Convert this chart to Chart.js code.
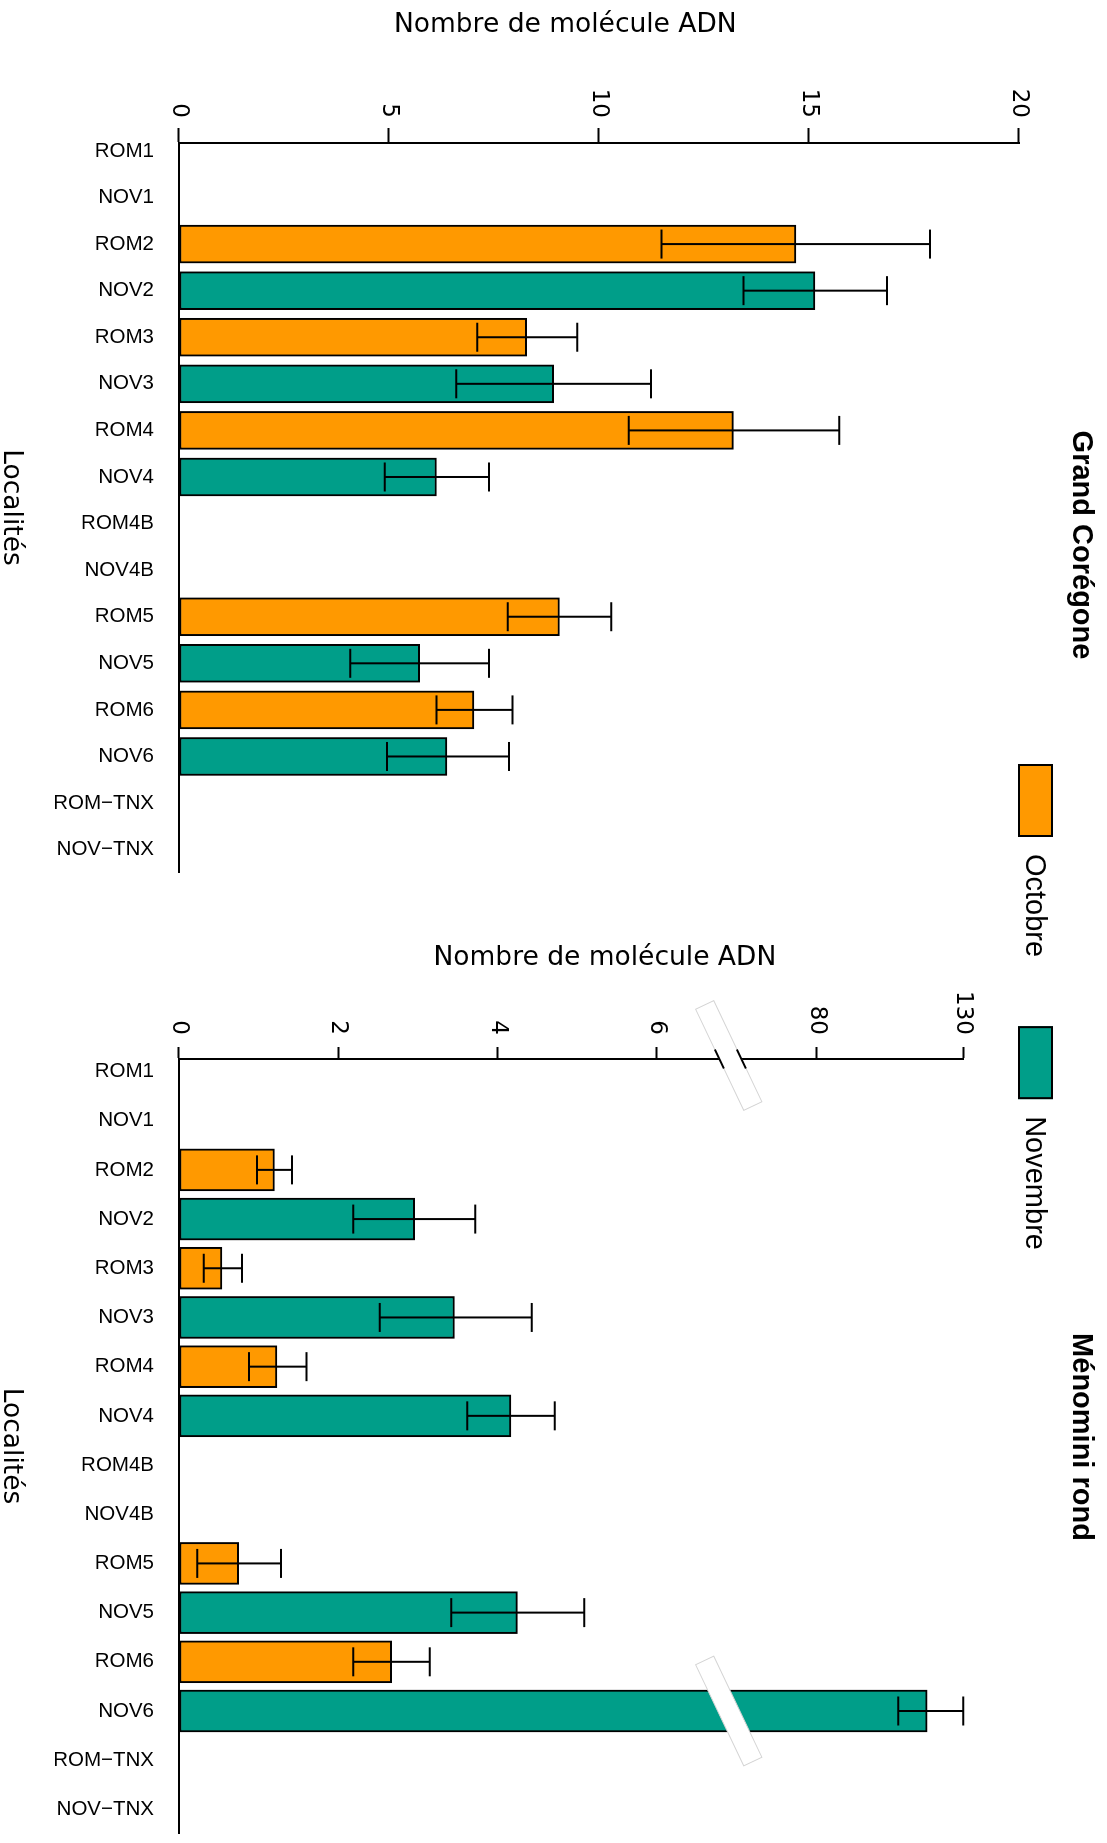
<!DOCTYPE html>
<html><head><meta charset="utf-8">
<script src="https://cdn.jsdelivr.net/npm/chart.js@4.4.1/dist/chart.umd.min.js"></script>
<style>
html,body{margin:0;padding:0;overflow:hidden;background:#fff;width:1107px;height:1843px;}
#stage{position:absolute;left:0;top:0;width:1843px;height:1107px;transform-origin:0 0;transform:translate(1107px,0) rotate(90deg);overflow:hidden;background:#fff;}
canvas{position:absolute;top:0;}
</style></head><body>
<div id="stage">
<canvas id="chartA" width="1090" height="1107" style="left:0;width:1090px;height:1107px"></canvas>
<canvas id="chartB" width="1394" height="1107" style="left:740px;width:1394px;height:1107px"></canvas>
</div>
<script>
// ---------------- DATA ----------------
const categories = ['ROM1','NOV1','ROM2','NOV2','ROM3','NOV3','ROM4','NOV4','ROM4B','NOV4B','ROM5','NOV5','ROM6','NOV6','ROM\u2212TNX','NOV\u2212TNX'];
const seriesNames = ['Octobre','Novembre'];

// Grand Corégone
const coregoneOctobre     = [null,null,14.69,null, 8.28,null,13.20,null,null,null, 9.06,null, 7.02,null,null,null];
const coregoneOctobreLow  = [null,null,11.49,null, 7.10,null,10.71,null,null,null, 7.83,null, 6.13,null,null,null];
const coregoneOctobreHigh = [null,null,17.88,null, 9.48,null,15.72,null,null,null,10.29,null, 7.94,null,null,null];
const coregoneNovembre     = [null,null,null,15.14,null, 8.92,null,6.13,null,null,null,5.73,null,6.38,null,null];
const coregoneNovembreLow  = [null,null,null,13.44,null, 6.60,null,4.90,null,null,null,4.08,null,4.95,null,null];
const coregoneNovembreHigh = [null,null,null,16.86,null,11.24,null,7.38,null,null,null,7.38,null,7.86,null,null];
const coregoneTicks = [0,5,10,15,20];

// Ménomini rond
const menominiOctobre     = [null,null,1.20,null,0.54,null,1.23,null,null,null,0.75,null,2.67,null,null,null];
const menominiOctobreLow  = [null,null,0.98,null,0.31,null,0.88,null,null,null,0.23,null,2.19,null,null,null];
const menominiOctobreHigh = [null,null,1.42,null,0.79,null,1.60,null,null,null,1.28,null,3.15,null,null,null];
const menominiNovembre     = [null,null,null,2.96,null,3.46,null,4.17,null,null,null,4.25,null,117.7,null,null];
const menominiNovembreLow  = [null,null,null,2.19,null,2.52,null,3.62,null,null,null,3.42,null,107.8,null,null];
const menominiNovembreHigh = [null,null,null,3.72,null,4.43,null,4.72,null,null,null,5.09,null,130,null,null];
const menominiTicks = [0,2,4,6,80,130];
const menominiBreakDomain = [0,6,80,130];

// ---------------- STYLE ----------------
const COLORS = ['#FF9900','#009E89'];
const BREAK_RANGE = [0,0.6091,0.8131,1];

Chart.defaults.color = '#000';
Chart.defaults.font.family = 'Liberation Sans';

function points(vals, lows, highs){
  return vals.map((v,i)=> v==null ? null : {x:i, y:v, lo:lows[i], hi:highs[i]}).filter(p=>p);
}

// broken (piecewise linear) value scale
function toFrac(v){
  const d = menominiBreakDomain;
  if (v == null || isNaN(v)) return NaN;
  for (let k=1;k<d.length;k++){
    if (v <= d[k] || k === d.length-1){
      return BREAK_RANGE[k-1] + (v-d[k-1])/(d[k]-d[k-1])*(BREAK_RANGE[k]-BREAK_RANGE[k-1]);
    }
  }
}
function fromFrac(f){
  const d = menominiBreakDomain;
  for (let k=1;k<d.length;k++){
    if (f <= BREAK_RANGE[k] || k === d.length-1){
      return d[k-1] + (f-BREAK_RANGE[k-1])/(BREAK_RANGE[k]-BREAK_RANGE[k-1])*(d[k]-d[k-1]);
    }
  }
}
class BrokenScale extends Chart.LinearScale {
  getPixelForValue(value){ return this.getPixelForDecimal(toFrac(value)); }
  getValueForPixel(pixel){ return fromFrac(this.getDecimalForPixel(pixel)); }
}
BrokenScale.id = 'broken';
BrokenScale.defaults = Chart.LinearScale.defaults;
Chart.register(BrokenScale);

const errorBars = {
  id:'errorBars',
  afterDatasetsDraw(chart){
    const ctx = chart.ctx, yS = chart.scales.y;
    ctx.save();
    ctx.strokeStyle = '#000'; ctx.lineWidth = 2;
    chart.data.datasets.forEach((ds,di)=>{
      const meta = chart.getDatasetMeta(di);
      meta.data.forEach((bar,j)=>{
        const p = ds.data[j];
        const lo = yS.getPixelForValue(p.lo), hi = yS.getPixelForValue(p.hi);
        const x = bar.x, w = 14.5;
        ctx.beginPath();
        ctx.moveTo(x,lo); ctx.lineTo(x,hi);
        ctx.moveTo(x-w,lo); ctx.lineTo(x+w,lo);
        ctx.moveTo(x-w,hi); ctx.lineTo(x+w,hi);
        ctx.stroke();
      });
    });
    ctx.restore();
  }
};

const axisBreak = {
  id:'axisBreak',
  afterDraw(chart){
    if (chart.canvas.id !== 'chartB') return;
    const ctx = chart.ctx, yS = chart.scales.y, xS = chart.scales.x;
    const p6 = yS.getPixelForValue(6), p80 = yS.getPixelForValue(80);
    const cy = p6 + 0.45*(p80-p6);
    const a = -25.45*Math.PI/180;
    const axisX = chart.chartArea.left;
    function band(cx, slashes){
      ctx.save();
      ctx.translate(cx, cy); ctx.rotate(a);
      ctx.fillStyle = '#fff'; ctx.fillRect(-56,-10,112,20);
      ctx.strokeStyle = '#d4d4d4'; ctx.lineWidth = 1; ctx.strokeRect(-56,-10,112,20);
      if (slashes){
        ctx.strokeStyle = '#000'; ctx.lineWidth = 2;
        const d = axisX - cx;
        [10,-10].forEach(t=>{
          const s = (d + t*Math.sin(a))/Math.cos(a);
          ctx.beginPath(); ctx.moveTo(s-10.5,t); ctx.lineTo(s+10.5,t); ctx.stroke();
        });
      }
      ctx.restore();
    }
    band(axisX-3.5, true);
    band(xS.getPixelForValue(13), false);
  }
};

const sideLegend = {
  id:'sideLegend',
  afterDraw(chart){
    if (chart.canvas.id !== 'chartB') return;
    const ctx = chart.ctx;
    ctx.save();
    ctx.font = '29px "Liberation Sans"';
    ctx.textBaseline = 'middle';
    let x = 24; const y = 54, bw = 73, bh = 35;
    chart.data.datasets.forEach(ds=>{
      ctx.fillStyle = ds.backgroundColor; ctx.fillRect(x,y,bw,bh);
      ctx.strokeStyle = '#000'; ctx.lineWidth = 2; ctx.strokeRect(x+1,y+1,bw-2,bh-2);
      ctx.fillStyle = '#000'; ctx.fillText(ds.label, x+bw+17, y+bh/2+1);
      x += bw + 17 + ctx.measureText(ds.label).width + 69;
    });
    ctx.restore();
  }
};

function xAxis(min, max){
  return {
    type:'linear', min, max, offset:false,
    afterBuildTicks(s){ s.ticks = categories.map((c,i)=>({value:i})); },
    ticks:{ autoSkip:false, minRotation:90, maxRotation:90, padding:25, color:'#000',
      font:{family:'Liberation Sans', size:20.5}, callback:(v)=>categories[v] },
    grid:{display:false, drawTicks:false, offset:false},
    border:{display:true, color:'#000', width:2},
    title:{display:true, text:'Localités', color:'#000', font:{family:'DejaVu Sans', size:26.5}, padding:{top:0,bottom:-5}},
    afterFit(s){ s.height = 179; }
  };
}
function yAxis(type, min, max, tickVals, tickLen, pad, width, titleText, titlePad){
  return {
    type, min, max,
    afterBuildTicks(s){ s.ticks = tickVals.map(v=>({value:v})); },
    ticks:{ padding:pad, color:'#000', font:{family:'DejaVu Sans', size:23}, callback:(v)=>String(v) },
    grid:{display:true, drawOnChartArea:false, drawTicks:true, tickLength:tickLen, tickColor:'#000', tickWidth:2},
    border:{display:true, color:'#000', width:2},
    title:{display:true, text:titleText, color:'#000', font:{family:'DejaVu Sans', size:26.5}, padding:{top:titlePad,bottom:0}},
    afterFit(s){ s.width = width; }
  };
}
function padAxis(width){
  return { type:'linear', position:'right', display:true, grid:{display:false}, ticks:{display:false}, border:{display:false}, afterFit(s){ s.width = width; } };
}
function datasets(oct, octLo, octHi, nov, novLo, novHi, thick){
  return [
    {label:seriesNames[0], data:points(oct,octLo,octHi), backgroundColor:COLORS[0], borderColor:'#000', borderWidth:2, borderSkipped:false, barThickness:thick, grouped:false},
    {label:seriesNames[1], data:points(nov,novLo,novHi), backgroundColor:COLORS[1], borderColor:'#000', borderWidth:2, borderSkipped:false, barThickness:thick, grouped:false}
  ];
}
function baseOptions(title, titleBottom, scales){
  return {
    responsive:false, animation:false, devicePixelRatio:1, events:[],
    layout:{padding:0},
    plugins:{
      legend:{display:false}, tooltip:{enabled:false},
      title:{display:true, text:title, color:'#000', font:{family:'Liberation Sans', size:29, weight:'bold'}, padding:{top:8.6, bottom:titleBottom}}
    },
    scales
  };
}

new Chart(document.getElementById('chartA'), {
  type:'bar',
  data:{ datasets: datasets(coregoneOctobre, coregoneOctobreLow, coregoneOctobreHigh, coregoneNovembre, coregoneNovembreLow, coregoneNovembreHigh, 38) },
  options: baseOptions('Grand Corégone', 44.6, {
    x: xAxis(-0.17, 15.48),
    y: yAxis('linear', 0, 20, coregoneTicks, 15, 10, 143, 'Nombre de molécule ADN        ', 9.6),
    yPad: padAxis(218)
  }),
  plugins:[errorBars]
});

new Chart(document.getElementById('chartB'), {
  type:'bar',
  data:{ datasets: datasets(menominiOctobre, menominiOctobreLow, menominiOctobreHigh, menominiNovembre, menominiNovembreLow, menominiNovembreHigh, 42) },
  options: baseOptions('Ménomini rond', 100.3, {
    x: xAxis(-0.254, 15.48),
    y: yAxis('broken', 0, 130, menominiTicks, 12, 12, 319, '        Nombre de molécule ADN', 202),
    yPad: padAxis(301)
  }),
  plugins:[errorBars, axisBreak, sideLegend]
});
</script>
</body></html>
